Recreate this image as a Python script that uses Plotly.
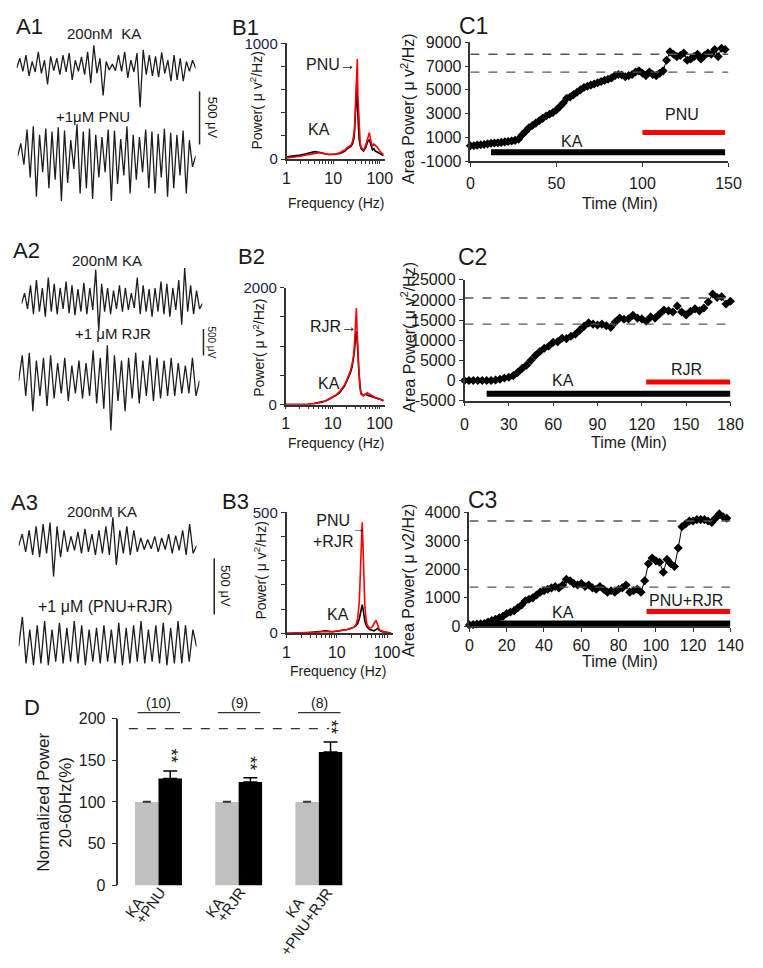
import plotly.graph_objects as go

W, H = 763, 968
FONT = "Liberation Sans, Arial, sans-serif"
INK = "#1a1a1a"
RED = "#ff0000"

# ---------------- data ----------------
# A: LFP traces (uV, read as peak/trough zigzags)
a1_ka = [0, 150, -50, 200, -120, 100, -60, 250, -80, 120, -250, 180, -40, 150, -100, 200, -60, 230, -180, 120, -50,
         170, -100, 250, -230, 350, -80, 150, -420, 100, -30, 60, -40, 200, -50, 250, -150, 120, -60, 230, -600, 280,
         -100, 200, -120, 180, -140, 240, -80, 120, -200, 200, -180, 150, -200, 100, -50, 120, 0]
a1_drug = [0, 120, -80, 250, -200, 280, -380, 200, -150, 260, -300, 230, -220, 270, -420, 240, -250, 150, -120, 300,
           -350, 230, -300, 260, -400, 200, -200, 180, -150, 250, -420, 240, -260, 160, -180, 280, -350, 200, -220, 180,
           -150, 250, -300, 230, -350, 210, -200, 260, -380, 220, -300, 200, -180, 240, -350, 150, -100, 0]
a2_ka = [0, 200, -100, 350, -200, 450, -150, 300, -250, 500, -150, 380, -200, 300, -100, 420, -180, 350, -220, 280,
         -150, 400, -200, 300, -120, 650, -520, 380, -150, 300, -200, 250, -100, 350, -150, 300, -120, 200, -80, 500,
         -200, 350, -150, 280, -250, 300, -150, 420, -200, 380, -250, 300, -120, 450, -400, 680, -150, 350, -200, 250,
         -100, 0]
a2_drug = [0, 500, -300, 550, -600, 400, -300, 450, -500, 500, -350, 350, -250, 450, -400, 300, -250, 400, -350, 350,
           -300, 600, -450, 450, -550, 700, -980, 500, -400, 400, -600, 450, -350, 550, -450, 400, -300, 500, -400, 450,
           -350, 400, -300, 450, -300, 350, -250, 300, -250, 450, -300, 0]
a3_ka = [0, 150, -80, 200, -120, 250, -150, 280, -100, 300, -400, 250, -150, 200, -80, 120, -60, 180, -100, 220, -80,
         150, -120, 200, -100, 250, -120, 370, -250, 200, -100, 250, -120, 200, -80, 100, -50, 80, -40, 120, -80, 100,
         -50, 150, -100, 130, -60, 200, -120, 280, -100, 0]
a3_drug = [0, 350, -200, 200, -220, 250, -200, 300, -220, 200, -180, 280, -200, 220, -180, 300, -200, 250, -220, 200,
           -180, 220, -200, 250, -180, 200, -200, 280, -220, 220, -200, 250, -180, 300, -200, 200, -180, 250, -200, 280,
           -220, 220, -200, 300, -200, 250, -180, 200, 0]

# B: power spectra
freq = [1, 1.5, 2, 2.5, 3, 4, 5, 6, 7, 8, 10, 12, 14, 16, 18, 20, 22, 24, 26, 28, 29, 30, 31, 32, 33, 34, 36, 38, 40,
        45, 50, 55, 60, 65, 70, 75, 80, 90, 100, 110, 120]
b1_ka = [20, 25, 35, 45, 55, 65, 60, 55, 45, 40, 40, 45, 50, 60, 70, 90, 100, 110, 130, 180, 250, 350, 480, 640, 480,
         300, 180, 120, 90, 70, 100, 150, 170, 120, 80, 90, 70, 60, 50, 40, 30]
b1_drug = [10, 15, 25, 35, 40, 50, 55, 50, 45, 40, 40, 45, 55, 70, 80, 100, 110, 120, 150, 220, 300, 450, 620, 780,
           865, 550, 250, 150, 100, 80, 120, 190, 230, 150, 110, 130, 120, 100, 70, 50, 40]
b2_ka = [0, 0, 0, 0, 5, 15, 30, 45, 60, 80, 120, 160, 200, 260, 320, 400, 470, 550, 650, 800, 900, 1050, 1200, 1250,
         1150, 900, 600, 350, 200, 150, 180, 160, 150, 140, 130, 120, 110, 100, 90, 80, 70]
b2_drug = [0, 0, 0, 0, 5, 15, 25, 40, 60, 85, 125, 170, 220, 280, 340, 420, 500, 580, 700, 850, 1000, 1200, 1450, 1650,
           1300, 950, 600, 300, 180, 150, 170, 200, 180, 160, 140, 130, 120, 110, 100, 80, 60]
b3_ka = [None, None, None, 2, 3, 5, 8, 10, 8, 6, 8, 10, 12, 15, 18, 20, 25, 30, 40, 60, 80, 100, 115, 118, 105, 80, 50,
         35, 25, 15, 12, 10, 15, 20, 12, 8, 6, 5, 3, 2, 1]
b3_drug = [1, 1, 2, 2, 3, 4, 6, 8, 7, 6, 8, 10, 12, 15, 18, 20, 25, 35, 60, 130, 220, 330, 430, 459, 380, 250, 120, 60,
           35, 20, 25, 40, 53, 35, 15, 10, 8, 6, 4, 2, 1]

# C: area power time courses
c1_time = list(range(0, 150, 2))
c1_power = [300, 300, 350, 380, 400, 450, 500, 520, 550, 580, 620, 650, 700, 750, 850, 1200, 1500, 1800, 2000, 2200,
            2400, 2600, 2800, 2950, 3100, 3300, 3600, 3900, 4300, 4400, 4600, 4800, 5000, 5200, 5300, 5400, 5500, 5600,
            5700, 5800, 5900, 6000, 6200, 6300, 6250, 6100, 6200, 6300, 6500, 6600, 6400, 6200, 6500, 6300, 6200, 6400,
            6600, 7500, 8200, 8000, 7800, 7900, 8100, 7500, 7600, 7800, 8000, 7600, 7900, 8100, 8000, 8400, 7800, 8500,
            8400]
c2_time = list(range(0, 181, 3))
c2_power = [0, 0, 0, 0, 0, 0, 0, 100, 300, 600, 800, 1200, 2000, 3000, 3800, 5000, 6200, 7200, 8000, 8500, 9500, 9600,
            10500, 10400, 11000, 11500, 12500, 13500, 14300, 14000, 13800, 14000, 13600, 13200, 14500, 15500, 15200,
            15300, 16200, 15500, 15300, 14700, 15800, 15500, 16500, 17500, 17300, 17000, 18500, 17000, 16300, 17200,
            17800, 17300, 18000, 19500, 21500, 20600, 20800, 19000, 19700]
c3_time = list(range(0, 140, 2))
c3_power = [50, 60, 80, 90, 100, 150, 200, 250, 300, 350, 450, 500, 550, 650, 750, 900, 950, 1000, 1100, 1200, 1250,
            1300, 1350, 1400, 1350, 1450, 1650, 1600, 1500, 1450, 1500, 1400, 1450, 1350, 1300, 1400, 1300, 1200, 1250,
            1200, 1300, 1350, 1450, 1200, 1250, 1300, 1200, 1600, 2200, 2400, 2300, 2250, 1900, 2350, 2200, 2100, 2750,
            3500, 3600, 3700, 3700, 3750, 3750, 3750, 3700, 3650, 3800, 3950, 3850, 3800]
c1_ref = [8000, 6500]
c2_ref = [20500, 14000]
c3_ref = [3700, 1380]
c1_ka_period, c1_drug_period = [12, 148], [100, 148]
c2_ka_period, c2_drug_period = [15, 180], [123, 180]
c3_ka_period, c3_drug_period = [8, 140], [95, 140]

# D: normalized power
d_groups = ["PNU", "RJR", "PNU+RJR"]
d_ka = [100, 100, 100]
d_ka_err = [0.6, 0.6, 0.6]
d_drug = [128, 124, 160]
d_drug_err = [9, 5, 12]
d_n = ["(10)", "(9)", "(8)"]
d_lab_ka = ["KA", "KA", "KA"]
d_lab_drug = ["+PNU", "+RJR", "+PNU+RJR"]
d_ref = 188

# ---------------- helpers ----------------
def fx(x):
    return x / W

def fy(y):
    return 1 - y / H

def dx(x0, x1):
    return [x0 / W, x1 / W]

def dy(y0, y1):
    return [1 - y1 / H, 1 - y0 / H]

fig = go.Figure()
lay = {}
annots = []
shapes = []

def axname(n, k):
    return f"{k}axis" if n == 1 else f"{k}axis{n}"

def ref(n, k):
    return k if n == 1 else f"{k}{n}"

def ann(text, x, y, size=14, angle=0, **kw):
    d = dict(text=text, x=fx(x), y=fy(y), xref="paper", yref="paper", showarrow=False,
             font=dict(family=FONT, size=size, color=INK), textangle=angle,
             xanchor="center", yanchor="middle")
    d.update(kw)
    annots.append(d)

axis_line = dict(showline=True, linecolor="#333333", linewidth=1.5, ticks="outside", tickcolor="#333333",
                 tickwidth=1.2, showgrid=False, zeroline=False,
                 tickfont=dict(family=FONT, size=15, color=INK))

# ---------------- A panels ----------------
a_specs = [
    (1, a1_ka, (13, 196), (35, 102)),
    (2, a1_drug, (14, 196), (115, 198)),
    (3, a2_ka, (18, 203), (262, 330)),
    (4, a2_drug, (15, 200), (340, 432)),
    (5, a3_ka, (15, 197), (516, 580)),
    (6, a3_drug, (15, 197), (618, 670)),
]
for n, vals, xs, ys in a_specs:
    fig.add_trace(go.Scatter(x=list(range(len(vals))), y=vals, mode="lines",
                             line=dict(color="#1e1e1e", width=1.3),
                             xaxis=ref(n, "x"), yaxis=ref(n, "y"), hoverinfo="skip"))
    lo, hi = min(vals), max(vals)
    pad = 0.03 * (hi - lo)
    lay[axname(n, "x")] = dict(domain=dx(*xs), anchor=ref(n, "y"), visible=False,
                               range=[0, len(vals) - 1])
    lay[axname(n, "y")] = dict(domain=dy(*ys), anchor=ref(n, "x"), visible=False,
                               range=[lo - pad, hi + pad])

# scale bars
for (x, y0, y1, tx, ty, fs) in [(200, 84, 138, 213, 111, 13), (204, 326, 353, 212, 340, 10),
                                (215, 560, 617, 227, 588, 13)]:
    shapes.append(dict(type="line", xref="paper", yref="paper", x0=fx(x), x1=fx(x), y0=fy(y0), y1=fy(y1),
                       line=dict(color="#222222", width=1.5)))
    ann("500 μV", tx, ty, size=fs, angle=90)

ann("A1", 26, 18, size=22)
ann("A2", 23, 246, size=22)
ann("A3", 21, 503, size=22)
ann("200nM  KA", 102, 25, size=15)
ann("+1μM PNU", 91, 110, size=15)
ann("200nM KA", 105, 256, size=15)
ann("+1 μM RJR", 111, 331, size=15)
ann("200nM KA", 100, 512, size=15)
ann("+1 μM (PNU+RJR)", 104, 609, size=16)

# ---------------- B panels ----------------
bx_vals = [1, 2, 3, 4, 5, 6, 7, 8, 9, 10, 20, 30, 40, 50, 60, 70, 80, 90, 100]
bx_text = ["1"] + [""] * 8 + ["10"] + [""] * 8 + ["100"]
b_specs = [
    (7, b1_ka, b1_drug, (289, 390), (35, 153), 1000, 200),
    (8, b2_ka, b2_drug, (288, 390), (284, 403), 2000, 500),
    (9, b3_ka, b3_drug, (289, 398), (513, 636), 500, 100),
]
for n, ka, drug, xs, ys, ymax, ystep in b_specs:
    fig.add_trace(go.Scatter(x=freq, y=ka, mode="lines", line=dict(color="#000000", width=1.6),
                             xaxis=ref(n, "x"), yaxis=ref(n, "y"), hoverinfo="skip"))
    fig.add_trace(go.Scatter(x=freq, y=drug, mode="lines", line=dict(color=RED, width=1.6),
                             xaxis=ref(n, "x"), yaxis=ref(n, "y"), hoverinfo="skip"))
    xa = dict(axis_line)
    xa.update(domain=dx(*xs), anchor=ref(n, "y"), type="log", range=[0, 2.12],
              tickvals=bx_vals, ticktext=bx_text, ticklen=3, ticklabelstandoff=1,
              tickfont=dict(family=FONT, size=16, color=INK))
    yt = list(range(0, ymax + 1, ystep))
    ya = dict(axis_line)
    ya.update(domain=dy(*ys), anchor=ref(n, "x"), range=[0, ymax], tickvals=yt,
              ticktext=[str(v) if v in (0, ymax) else "" for v in yt], ticklen=4,
              tickfont=dict(family=FONT, size=15, color="#1c1c4a"))
    lay[axname(n, "x")] = xa
    lay[axname(n, "y")] = ya

ann("B1", 247, 19, size=22)
ann("B2", 253, 252, size=22)
ann("B3", 237, 502, size=22)
ann("Power( μ v<sup>2</sup>/Hz)", 258, 93, size=14, angle=-90)
ann("Power( μ v<sup>2</sup>/Hz)", 260, 345, size=14, angle=-90)
ann("Power( μ v<sup>2</sup>/Hz)", 262, 572, size=14, angle=-90)
ann("Frequency (Hz)", 340, 198, size=14)
ann("Frequency (Hz)", 340, 442, size=14)
ann("Frequency (Hz)", 342, 675, size=14)
ann("KA", 322, 123, size=16)
ann("PNU→", 334, 57, size=16)
ann("KA", 332, 382, size=16)
ann("RJR→", 337, 324, size=16)
ann("KA", 342, 617, size=16)
ann("PNU<br>+RJR", 337, 532, size=16)
ann("→", 363, 529, size=13)

# ---------------- C panels ----------------
c_specs = [
    (10, c1_time, c1_power, c1_ref, c1_ka_period, c1_drug_period, -250, 1400,
     (477, 741), (34, 155), [0, 150], [-1000, 9000], 50, [-1000, 1000, 3000, 5000, 7000, 9000], 3),
    (11, c2_time, c2_power, c2_ref, c2_ka_period, c2_drug_period, -3300, -400,
     (471, 743), (276, 399), [0, 180], [-5000, 25000], 30, list(range(-5000, 25001, 5000)), 4),
    (12, c3_time, c3_power, c3_ref, c3_ka_period, c3_drug_period, 100, 520,
     (476, 743), (513, 629), [0, 140], [0, 4000], 20, list(range(0, 4001, 1000)), 0),
]
for n, t, p, refs, kap, drp, kay, dry, xs, ys, xr, yr, xdt, ytv, so in c_specs:
    xr_ref, yr_ref = ref(n, "x"), ref(n, "y")
    for lvl in refs:
        shapes.append(dict(type="line", xref=xr_ref, yref=yr_ref, x0=xr[0], x1=xr[1], y0=lvl, y1=lvl,
                           line=dict(color="#555555", width=1.3, dash="dash")))
    fig.add_trace(go.Scatter(x=kap, y=[kay, kay], mode="lines", line=dict(color="#000000", width=6),
                             xaxis=xr_ref, yaxis=yr_ref, hoverinfo="skip"))
    fig.add_trace(go.Scatter(x=drp, y=[dry, dry], mode="lines", line=dict(color=RED, width=5),
                             xaxis=xr_ref, yaxis=yr_ref, hoverinfo="skip"))
    fig.add_trace(go.Scatter(x=t, y=p, mode="lines+markers", line=dict(color="#000000", width=1),
                             marker=dict(symbol="diamond", size=7, color="#000000"),
                             xaxis=xr_ref, yaxis=yr_ref, hoverinfo="skip", cliponaxis=False))
    xa = dict(axis_line)
    xa.update(domain=dx(*xs), anchor=yr_ref, range=xr, dtick=xdt, tick0=0, ticklen=4, ticklabelstandoff=so,
              tickfont=dict(family=FONT, size=16, color=INK))
    ya = dict(axis_line)
    ya.update(domain=dy(*ys), anchor=xr_ref, range=yr, tickvals=ytv, ticktext=[str(v) for v in ytv],
              ticklen=4, tickfont=dict(family=FONT, size=16, color=INK))
    lay[axname(n, "x")] = xa
    lay[axname(n, "y")] = ya

ann("C1", 480, 17, size=23)
ann("C2", 479, 253, size=23)
ann("C3", 489, 500, size=23)
ann("Area Power( μ v<sup>2</sup>/Hz)", 413, 101, size=16, angle=-90)
ann("Area Power( μ v<sup>2</sup>/Hz)", 413, 334, size=16, angle=-90)
ann("Area Power( μ v2/Hz)", 413, 582, size=16, angle=-90)
ann("Time (Min)", 630, 198, size=16)
ann("Time (Min)", 639, 442, size=16)
ann("Time (Min)", 630, 665, size=16)
ann("KA", 581, 135, size=16)
ann("PNU", 693, 107, size=16)
ann("KA", 572, 379, size=16)
ann("RJR", 698, 367, size=16)
ann("KA", 572, 615, size=16)
ann("PNU+RJR", 698, 603, size=16)

# ---------------- D panel ----------------
fig.add_trace(go.Bar(x=d_groups, y=d_ka, marker=dict(color="#c0c0c0", line=dict(width=0)),
                     error_y=dict(type="data", array=d_ka_err, arrayminus=[0] * 3, symmetric=False,
                                  color="#333333", thickness=1.3, width=4),
                     xaxis="x13", yaxis="y13", hoverinfo="skip"))
fig.add_trace(go.Bar(x=d_groups, y=d_drug, marker=dict(color="#000000", line=dict(width=0)),
                     error_y=dict(type="data", array=d_drug_err, arrayminus=[0] * 3, symmetric=False,
                                  color="#000000", thickness=1.5, width=7),
                     xaxis="x13", yaxis="y13", hoverinfo="skip"))
lay["xaxis13"] = dict(domain=dx(117, 363), anchor="y13", type="category", range=[-0.5, 2.5],
                      showticklabels=False, showline=False, ticks="", showgrid=False, zeroline=False)
ya = dict(axis_line)
ya.update(domain=dy(723, 893), anchor="x13", range=[0, 200], tickvals=[0, 50, 100, 150, 200], ticklen=5,
          ticklabelstandoff=3, tickfont=dict(family=FONT, size=16, color=INK))
lay["yaxis13"] = ya

shapes.append(dict(type="line", xref="x13", yref="y13", x0=-0.37, x1=2.13, y0=d_ref, y1=d_ref,
                   line=dict(color="#333333", width=1.3, dash="dash")))
for i, g in enumerate(d_groups):
    shapes.append(dict(type="line", xref="x13", yref="paper", x0=i - 0.26, x1=i + 0.27,
                       y0=fy(717), y1=fy(717), line=dict(color="#333333", width=1.3)))
    annots.append(dict(text=d_n[i], x=i + 0.005, xref="x13", y=fy(707), yref="paper", showarrow=False,
                       font=dict(family=FONT, size=14, color=INK), xanchor="center", yanchor="middle"))
    annots.append(dict(text="**", x=g, xref="x13", y=d_drug[i] + d_drug_err[i], yref="y13", yshift=15,
                       xshift=12, showarrow=False, textangle=90,
                       font=dict(family=FONT, size=18, color=INK), xanchor="center", yanchor="middle"))
    annots.append(dict(text=d_lab_ka[i], x=g, xref="x13", y=fy(899), yref="paper", xshift=-9,
                       showarrow=False, textangle=-55, font=dict(family=FONT, size=15, color=INK),
                       xanchor="right", yanchor="top"))
    annots.append(dict(text=d_lab_drug[i], x=g, xref="x13", y=fy(889), yref="paper",
                       xshift=[13, 13, 20][i], showarrow=False, textangle=-55,
                       font=dict(family=FONT, size=15, color=INK), xanchor="right", yanchor="top"))

ann("D", 29, 712, size=22)
ann("Normalized Power<br>20-60Hz(%)", 52, 808, size=17, angle=-90)

fig.update_layout(width=W, height=H, margin=dict(l=0, r=0, t=0, b=0), paper_bgcolor="white",
                  plot_bgcolor="white", showlegend=False, barmode="group", bargap=0.415, bargroupgap=0,
                  font=dict(family=FONT, color=INK), annotations=annots, shapes=shapes, **lay)

post = ("document.body.style.margin='0';document.body.style.padding='0';"
        "document.body.style.overflow='hidden';"
        "var gd=document.getElementById('{plot_id}');"
        "gd.style.position='absolute';gd.style.left='0px';gd.style.top='0px';")
fig.write_html("out.html", config={"displayModeBar": False}, post_script=post)
